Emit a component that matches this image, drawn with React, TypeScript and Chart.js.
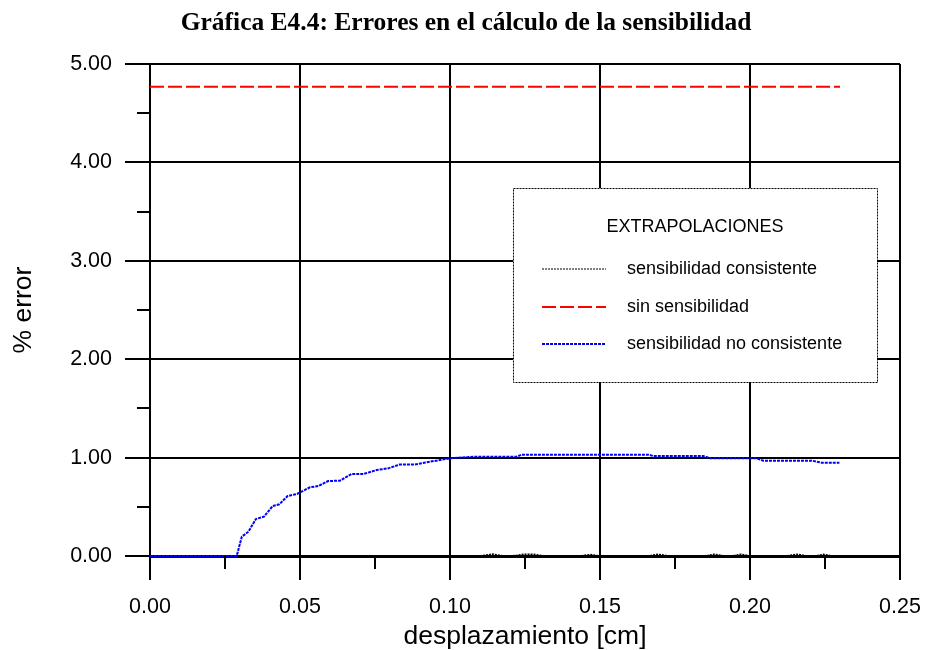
import React, { useEffect, useRef } from "react";
import { Chart, registerables } from "chart.js";

Chart.register(...registerables);

const chartTitle = "Gráfica E4.4: Errores en el cálculo de la sensibilidad";
const xAxisTitle = "desplazamiento [cm]";
const yAxisTitle = "% error";
const legendTitle = "EXTRAPOLACIONES";
const seriesNames = ["sensibilidad consistente", "sin sensibilidad", "sensibilidad no consistente"];

// sensibilidad consistente
const xConsist = [0, 0.11, 0.1143, 0.118, 0.122, 0.1245, 0.128, 0.1315, 0.143, 0.1467, 0.15, 0.166, 0.1694, 0.173, 0.185, 0.188, 0.1915, 0.194, 0.197, 0.2, 0.212, 0.2157, 0.219, 0.222, 0.2245, 0.2275, 0.23];
const yConsist = [0, 0, 0.02, 0, 0.005, 0.018, 0.018, 0, 0, 0.015, 0, 0, 0.018, 0, 0, 0.018, 0, 0, 0.018, 0, 0, 0.018, 0, 0, 0.018, 0, 0];

// sin sensibilidad
const xSin = [0, 0.23];
const ySin = [4.77, 4.77];

// sensibilidad no consistente
const xNoCons = [0, 0.0289, 0.0306, 0.0328, 0.0353, 0.038, 0.0409, 0.0431, 0.0459, 0.049, 0.0533, 0.0561, 0.0594, 0.0633, 0.0672, 0.0711, 0.0756, 0.0794, 0.0833, 0.0883, 0.0933, 0.1, 0.1078, 0.1222, 0.1239, 0.1661, 0.1678, 0.1844, 0.1867, 0.2022, 0.2044, 0.2206, 0.2239, 0.2298];
const yNoCons = [0, 0, 0.196, 0.247, 0.376, 0.4, 0.508, 0.525, 0.61, 0.63, 0.698, 0.711, 0.762, 0.765, 0.833, 0.833, 0.874, 0.891, 0.93, 0.93, 0.958, 0.993, 1.009, 1.009, 1.03, 1.03, 1.016, 1.016, 0.993, 0.993, 0.969, 0.969, 0.948, 0.948];

const xMinorTicks = [0.025, 0.075, 0.125, 0.175, 0.225];
const yMinorTicks = [0.5, 1.5, 2.5, 3.5, 4.5];

const pts = (xs: number[], ys: number[]) => xs.map((x, i) => ({ x, y: ys[i] }));

const SANS = "Arial, 'Liberation Sans', sans-serif";
const SERIF = "'Times New Roman', 'Liberation Serif', serif";

const overlayPlugin = {
  id: "overlay",
  afterDraw(chart: any) {
    const ctx = chart.ctx;
    const xs = chart.scales.x;
    const ys = chart.scales.y;
    const area = chart.chartArea;
    ctx.save();
    // minor ticks
    ctx.strokeStyle = "#000";
    ctx.lineWidth = 2;
    ctx.setLineDash([]);
    xMinorTicks.forEach((v) => {
      const px = Math.round(xs.getPixelForValue(v));
      ctx.beginPath();
      ctx.moveTo(px, area.bottom);
      ctx.lineTo(px, area.bottom + 13);
      ctx.stroke();
    });
    yMinorTicks.forEach((v) => {
      const py = Math.round(ys.getPixelForValue(v));
      ctx.beginPath();
      ctx.moveTo(area.left - 13, py);
      ctx.lineTo(area.left, py);
      ctx.stroke();
    });

    // title
    ctx.fillStyle = "#000";
    ctx.font = `bold 25.5px ${SERIF}`;
    ctx.textAlign = "center";
    ctx.textBaseline = "alphabetic";
    ctx.fillText(chartTitle, 466, 30);

    // axis titles
    ctx.font = `26.5px ${SANS}`;
    ctx.textBaseline = "alphabetic";
    ctx.fillText(xAxisTitle, (area.left + area.right) / 2, 644);
    ctx.save();
    ctx.translate(31, 310);
    ctx.rotate(-Math.PI / 2);
    ctx.fillText(yAxisTitle, 0, 0);
    ctx.restore();

    // legend box
    const lx = 513, ly = 188, lw = 364, lh = 194;
    ctx.fillStyle = "#fff";
    ctx.fillRect(lx, ly, lw, lh);
    ctx.strokeStyle = "#000";
    ctx.lineWidth = 1;
    ctx.setLineDash([2, 1]);
    ctx.strokeRect(lx + 0.5, ly + 0.5, lw, lh);

    ctx.fillStyle = "#000";
    ctx.font = `18px ${SANS}`;
    ctx.textAlign = "center";
    ctx.textBaseline = "middle";
    ctx.fillText(legendTitle, 695, 227);

    const rows = [269, 307, 344];
    const styles = [
      { color: "#000", dash: [2, 1], width: 1 },
      { color: "#ff0000", dash: [14, 4], width: 2 },
      { color: "#0000ff", dash: [3, 1], width: 2 },
    ];
    rows.forEach((ry, i) => {
      const s = styles[i];
      ctx.strokeStyle = s.color;
      ctx.lineWidth = s.width;
      ctx.setLineDash(s.dash);
      ctx.beginPath();
      ctx.moveTo(542, ry);
      ctx.lineTo(606, ry);
      ctx.stroke();
      ctx.setLineDash([]);
      ctx.fillStyle = "#000";
      ctx.textAlign = "left";
      ctx.fillText(seriesNames[i], 627, ry);
    });
    ctx.restore();
  },
};

export default function App() {
  const ref = useRef<HTMLCanvasElement | null>(null);
  useEffect(() => {
    if (!ref.current) return;
    const chart = new Chart(ref.current, {
      type: "line",
      data: {
        datasets: [
          {
            label: seriesNames[0],
            data: pts(xConsist, yConsist),
            borderColor: "#000",
            borderWidth: 1.5,
            borderDash: [2, 1],
            pointRadius: 0,
            tension: 0,
            order: 1,
            clip: 4,
          },
          {
            label: seriesNames[1],
            data: pts(xSin, ySin),
            borderColor: "#ff0000",
            borderWidth: 2,
            borderDash: [14, 4],
            pointRadius: 0,
            tension: 0,
            order: 2,
          },
          {
            label: seriesNames[2],
            data: pts(xNoCons, yNoCons),
            borderColor: "#0000ff",
            borderWidth: 2,
            borderDash: [3, 1],
            pointRadius: 0,
            tension: 0,
            order: 0,
            clip: 4,
          },
        ],
      },
      options: {
        responsive: false,
        animation: false,
        devicePixelRatio: 1,
        layout: { padding: { top: 64, right: 27, left: 0, bottom: 0 } },
        plugins: { legend: { display: false }, title: { display: false }, tooltip: { enabled: false } },
        scales: {
          x: {
            type: "linear",
            min: 0,
            max: 0.25,
            afterFit: (s: any) => { s.height = 94; s.paddingLeft = 0; s.paddingRight = 0; },
            ticks: {
              stepSize: 0.05,
              padding: 14,
              color: "#000",
              font: { family: SANS, size: 21.5 },
              callback: (v: any) => Number(v).toFixed(2),
              maxRotation: 0,
            },
            grid: { color: "#000", lineWidth: 2, tickLength: 24, drawTicks: true },
            border: { display: true, color: "#000", width: 3 },
          },
          y: {
            min: 0,
            max: 5,
            afterFit: (s: any) => { s.width = 150; s.paddingTop = 0; s.paddingBottom = 0; },
            ticks: {
              stepSize: 1,
              padding: 13,
              color: "#000",
              font: { family: SANS, size: 21.5 },
              callback: (v: any) => Number(v).toFixed(2),
            },
            grid: { color: "#000", lineWidth: 2, tickLength: 25, drawTicks: true },
            border: { display: true, color: "#000", width: 2 },
          },
        },
      },
      plugins: [overlayPlugin],
    } as any);
    return () => chart.destroy();
  }, []);
  return (
    <div style={{ position: "fixed", left: 0, top: 0, width: 927, height: 650, background: "#fff" }}>
      <canvas ref={ref} width={927} height={650} style={{ display: "block" }} />
    </div>
  );
}
